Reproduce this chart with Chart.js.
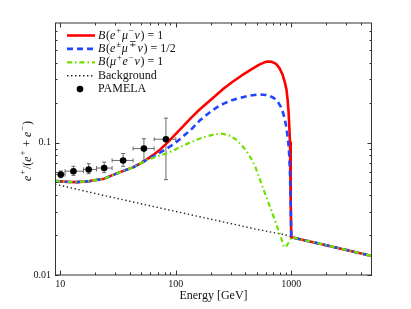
<!DOCTYPE html>
<html>
<head>
<meta charset="utf-8">
<script src="https://cdn.jsdelivr.net/npm/chart.js@4.4.0/dist/chart.umd.min.js"></script>
<style>
  html, body { margin: 0; padding: 0; background: #fff; }
</style>
</head>
<body>
<canvas id="chart" width="411" height="309"></canvas>
<script>
// Energies in GeV, positron fraction e+/(e+ + e-)
const redE = [9, 10, 12, 14, 18, 24, 28, 33, 43, 52, 59, 65, 73, 82, 95, 115, 135, 160, 190, 223, 260, 311, 370, 433, 528, 580, 623, 680, 738, 790, 842, 880, 910, 930, 948, 962, 975, 985, 993, 1000, 2000, 5000];
const redY = [0.0512, 0.0509, 0.0504, 0.0503, 0.0512, 0.0534, 0.0565, 0.0598, 0.0653, 0.0713, 0.0770, 0.0815, 0.0884, 0.0973, 0.111, 0.132, 0.153, 0.177, 0.202, 0.228, 0.256, 0.288, 0.320, 0.350, 0.388, 0.402, 0.410, 0.407, 0.393, 0.365, 0.325, 0.285, 0.25, 0.21, 0.17, 0.13, 0.10, 0.065, 0.035, 0.0193, 0.0168, 0.0139];

const blueE = [9, 10, 12, 14, 18, 24, 28, 33, 43, 52, 59, 65, 73, 82, 95, 107, 125, 140, 160, 190, 223, 260, 311, 355, 433, 528, 600, 646, 700, 761, 814, 842, 870, 900, 925, 948, 962, 975, 988, 1000, 2000, 5000];
const blueY = [0.0512, 0.0509, 0.0504, 0.0503, 0.0512, 0.0534, 0.0565, 0.0598, 0.0653, 0.0713, 0.0760, 0.0795, 0.084, 0.089, 0.097, 0.105, 0.118, 0.129, 0.146, 0.165, 0.183, 0.197, 0.210, 0.217, 0.226, 0.231, 0.229, 0.226, 0.218, 0.205, 0.185, 0.172, 0.155, 0.135, 0.115, 0.095, 0.078, 0.058, 0.035, 0.0193, 0.0168, 0.0139];

const greenE = [9, 10, 12, 14, 18, 24, 28, 33, 43, 52, 59, 65, 73, 82, 95, 110, 131, 160, 190, 223, 255, 290, 330, 370, 405, 448, 490, 565, 620, 689, 750, 814, 850, 869, 910, 948, 1000, 2000, 5000];
const greenY = [0.0512, 0.0509, 0.0504, 0.0503, 0.0512, 0.0534, 0.0565, 0.0598, 0.0653, 0.0711, 0.0750, 0.0772, 0.0800, 0.0825, 0.087, 0.093, 0.0995, 0.107, 0.112, 0.116, 0.1165, 0.113, 0.106, 0.096, 0.0874, 0.076, 0.065, 0.0461, 0.037, 0.029, 0.0235, 0.0193, 0.0170, 0.0162, 0.0166, 0.0176, 0.0193, 0.0168, 0.0139];

const bgE = [9, 10, 20, 50, 100, 200, 355, 500, 842, 1000, 2000, 5000];
const bgY = [0.0483, 0.0475, 0.0413, 0.0345, 0.0302, 0.0264, 0.0237, 0.0221, 0.0203, 0.0195, 0.0168, 0.0139];

// PAMELA points with bin edges and error range
const pamE = [10.1, 13.0, 17.6, 24.0, 35.0, 53.0, 82.2];
const pamY = [0.0573, 0.0608, 0.0627, 0.0642, 0.0733, 0.0901, 0.106];
const pamELo = [7.4, 11.0, 15.9, 20.6, 28.1, 42.7, 65.0];
const pamEHi = [11.0, 15.9, 20.6, 28.1, 42.7, 65.0, 100];
const pamYLo = [0.0543, 0.0565, 0.0582, 0.0593, 0.0662, 0.0734, 0.0525];
const pamYHi = [0.0610, 0.0662, 0.0693, 0.0713, 0.0826, 0.107, 0.153];

const xTicks = [10, 100, 1000];
const yTicks = [0.01, 0.1];
const xMinor = [9, 20, 30, 40, 50, 60, 70, 80, 90, 200, 300, 400, 500, 600, 700, 800, 900, 2000, 3000, 4000];
const yMinor = [0.02, 0.03, 0.04, 0.05, 0.06, 0.07, 0.08, 0.09, 0.2, 0.3, 0.4, 0.5, 0.6, 0.7];

// rich text pieces: 'i' italic, 'r' roman, 's' superscript
const legendLabels = [
  [['B', 'i'], ['(', 'r'], ['e', 'i'], ['+', 's'], ['μ', 'i'], ['−', 's'], ['ν', 'i'], [') = 1', 'r']],
  [['B', 'i'], ['(', 'r'], ['e', 'i'], ['±', 's'], ['μ', 'i'], ['∓', 's'], ['ν', 'i'], [') = 1/2', 'r']],
  [['B', 'i'], ['(', 'r'], ['μ', 'i'], ['+', 's'], ['e', 'i'], ['−', 's'], ['ν', 'i'], [') = 1', 'r']],
  [['Background', 'r']],
  [['PAMELA', 'r']]
];
const yTitle = [['e', 'i'], ['+', 's'], ['/(', 'r'], ['e', 'i'], ['+', 's'], [' + ', 'r'], ['e', 'i'], ['−', 's'], [')', 'r']];

const FONT = '"Liberation Serif", "Times New Roman", serif';
const RED = '#ff0000', BLUE = '#2244ff', GREEN = '#70e000';
const BG_DASH = [1.4, 2.6];

const pts = (xs, ys) => xs.map((x, i) => ({ x: x, y: ys[i] }));

function setFont(ctx, kind, size) {
  const fs = kind === 's' ? size * 0.72 : size;
  ctx.font = (kind === 'i' ? 'italic ' : '') + fs + 'px ' + FONT;
}

function segWidth(ctx, t, k, size) {
  setFont(ctx, k, size);
  return ctx.measureText(t).width + (k === 's' ? 1.2 : k === 'i' ? 0.6 : 0);
}

function richWidth(ctx, segs, size) {
  return segs.reduce((w, [t, k]) => w + segWidth(ctx, t, k, size), 0);
}

function drawRich(ctx, segs, x, y, size) {
  let cx = x;
  segs.forEach(([t, k]) => {
    const w = segWidth(ctx, t, k, size);
    ctx.fillText(t, k === 's' ? cx + 0.4 : cx, k === 's' ? y - size * 0.38 : y);
    cx += w;
  });
}

const decor = {
  id: 'decor',
  beforeDatasetsDraw(chart) {
    const { ctx, chartArea: a, scales: { x, y } } = chart;
    ctx.save();
    ctx.beginPath();
    ctx.rect(a.left, a.top, a.right - a.left, a.bottom - a.top);
    ctx.clip();
    ctx.strokeStyle = '#6a6a6a';
    ctx.lineWidth = 1;
    pamE.forEach((e, i) => {
      const px = x.getPixelForValue(e), py = y.getPixelForValue(pamY[i]);
      const x0 = x.getPixelForValue(pamELo[i]), x1 = x.getPixelForValue(pamEHi[i]);
      const y0 = y.getPixelForValue(pamYLo[i]), y1 = y.getPixelForValue(pamYHi[i]);
      ctx.beginPath();
      ctx.moveTo(x0, py); ctx.lineTo(x1, py);
      ctx.moveTo(x0, py - 2); ctx.lineTo(x0, py + 2);
      ctx.moveTo(x1, py - 2); ctx.lineTo(x1, py + 2);
      ctx.moveTo(px, y0); ctx.lineTo(px, y1);
      ctx.moveTo(px - 2, y0); ctx.lineTo(px + 2, y0);
      ctx.moveTo(px - 2, y1); ctx.lineTo(px + 2, y1);
      ctx.stroke();
    });
    ctx.restore();
  },
  afterDatasetsDraw(chart) {
    const { ctx, chartArea: a, scales: { x, y } } = chart;
    ctx.save();
    // frame
    ctx.strokeStyle = '#333';
    ctx.lineWidth = 1;
    ctx.strokeRect(a.left + 0.5, a.top, a.right - a.left - 1, a.bottom - a.top);
    // inward ticks on all four sides
    ctx.beginPath();
    const xt = (v, len) => {
      const p = Math.round(x.getPixelForValue(v)) + 0.5;
      ctx.moveTo(p, a.bottom); ctx.lineTo(p, a.bottom - len);
      ctx.moveTo(p, a.top); ctx.lineTo(p, a.top + len);
    };
    const yt = (v, len) => {
      const p = Math.round(y.getPixelForValue(v)) + 0.5;
      ctx.moveTo(a.left, p); ctx.lineTo(a.left + len, p);
      ctx.moveTo(a.right, p); ctx.lineTo(a.right - len, p);
    };
    xTicks.forEach(v => xt(v, 4.5));
    xMinor.forEach(v => xt(v, 2.5));
    yTicks.forEach(v => yt(v, 4.5));
    yMinor.forEach(v => yt(v, 2.5));
    ctx.stroke();

    // legend
    const rowY = 35.5, dy = 13.4, sx0 = 67, sx1 = 95, tx = 98;
    const styles = [
      { c: RED, w: 2.6, d: [] },
      { c: BLUE, w: 2.6, d: [6, 4] },
      { c: GREEN, w: 2.2, d: [5, 3, 1.5, 3] },
      { c: '#222', w: 1.4, d: BG_DASH }
    ];
    ctx.textBaseline = 'middle';
    ctx.fillStyle = '#111';
    legendLabels.forEach((segs, i) => {
      const ry = rowY + i * dy;
      if (i < 4) {
        const s = styles[i];
        ctx.beginPath();
        ctx.strokeStyle = s.c; ctx.lineWidth = s.w; ctx.setLineDash(s.d);
        ctx.moveTo(sx0, ry); ctx.lineTo(sx1, ry);
        ctx.stroke();
        ctx.setLineDash([]);
      } else {
        ctx.beginPath();
        ctx.fillStyle = '#000';
        ctx.arc(80, ry, 3.3, 0, Math.PI * 2);
        ctx.fill();
        ctx.fillStyle = '#111';
      }
      drawRich(ctx, segs, tx, ry, 12);
    });

    // y axis title, rotated
    ctx.translate(27.5, 151);
    ctx.rotate(-Math.PI / 2);
    const w = richWidth(ctx, yTitle, 12);
    drawRich(ctx, yTitle, -w / 2, 0, 12);
    ctx.restore();
  }
};

const lineDs = (label, xs, ys, color, width, dash) => ({
  label: label,
  data: pts(xs, ys),
  borderColor: color,
  borderWidth: width,
  borderDash: dash,
  borderJoinStyle: 'round',
  pointRadius: 0,
  fill: false,
  tension: 0
});

new Chart(document.getElementById('chart'), {
  type: 'line',
  data: {
    datasets: [
      {
        label: 'PAMELA',
        data: pts(pamE, pamY),
        showLine: false,
        pointRadius: 3.3,
        pointBackgroundColor: '#000',
        pointBorderWidth: 0
      },
      lineDs('B(μ⁺e⁻ν) = 1', greenE, greenY, GREEN, 2.2, [5, 3, 1.5, 3]),
      lineDs('B(e±μ∓ν) = 1/2', blueE, blueY, BLUE, 2.6, [6, 4]),
      lineDs('B(e⁺μ⁻ν) = 1', redE, redY, RED, 2.6, []),
      lineDs('Background', bgE, bgY, '#222', 1.4, BG_DASH)
    ]
  },
  options: {
    responsive: false,
    animation: false,
    events: [],
    layout: { padding: { left: 0, right: 39, top: 23, bottom: 0 } },
    plugins: { legend: { display: false }, tooltip: { enabled: false } },
    scales: {
      x: {
        type: 'logarithmic',
        min: 9,
        max: 5000,
        afterFit: s => { s.height = 34; },
        afterBuildTicks: s => { s.ticks = xTicks.map(v => ({ value: v })); },
        grid: { display: false, drawTicks: false },
        border: { display: false },
        ticks: {
          padding: 3, color: '#111', maxRotation: 0, autoSkip: false,
          font: { family: FONT, size: 10 },
          callback: v => String(v)
        },
        title: {
          display: true, text: 'Energy [GeV]', color: '#111',
          font: { family: FONT, size: 12 },
          padding: { top: 0, bottom: 6 }
        }
      },
      y: {
        type: 'logarithmic',
        min: 0.01,
        max: 0.8,
        afterFit: s => { s.width = 55; },
        afterBuildTicks: s => { s.ticks = yTicks.map(v => ({ value: v })); },
        grid: { display: false, drawTicks: false },
        border: { display: false },
        ticks: {
          padding: 4, color: '#111', autoSkip: false,
          font: { family: FONT, size: 10 },
          callback: v => String(v)
        }
      }
    }
  },
  plugins: [decor]
});
</script>
</body>
</html>
